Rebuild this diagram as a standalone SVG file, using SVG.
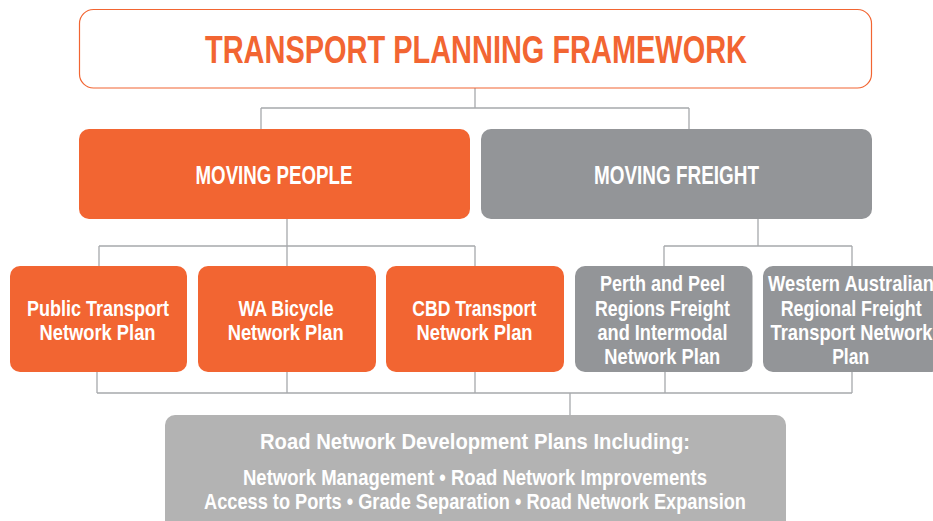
<svg xmlns="http://www.w3.org/2000/svg" width="933" height="521" viewBox="0 0 933 521">
  <style>
    .t { font-family: "Liberation Sans Narrow", "Liberation Sans", Arial, sans-serif; font-weight: bold; text-anchor: middle; }
    .w { fill: #ffffff; }
    .orange { fill: #f26532; }
    .grey { fill: #939598; }
    .light { fill: #b3b3b3; }
    .conn { fill: none; stroke: #a7a9ac; stroke-width: 1.3; }
  </style>
  <rect width="933" height="521" fill="#ffffff"/>

  <!-- connectors -->
  <g id="connectors" class="conn">
    <path d="M475 88 V108 M261 108 H689 M261 108 V129 M689 108 V129"/>
    <path d="M287 219 V246 M99 246 H475 M99 246 V266 M287 246 V266 M475 246 V266"/>
    <path d="M758 219 V246 M664 246 H852 M664 246 V266 M852 246 V266"/>
    <path d="M97 372 V393 M287 372 V393 M475 372 V393 M665 372 V393 M852 372 V393 M97 393 H852 M570 393 V415"/>
  </g>

  <!-- framework header -->
  <g id="framework">
    <rect x="79.5" y="9.5" width="792" height="78.5" rx="14" fill="#ffffff" stroke="#f26532" stroke-width="1.2"/>
    <text class="t orange" x="476" y="63" font-size="39" textLength="542" lengthAdjust="spacingAndGlyphs">TRANSPORT PLANNING FRAMEWORK</text>
  </g>

  <!-- second tier -->
  <g id="moving-people">
    <rect class="orange" x="79" y="129" width="391" height="90" rx="10"/>
    <text class="t w" x="274" y="184" font-size="25" textLength="157" lengthAdjust="spacingAndGlyphs">MOVING PEOPLE</text>
  </g>
  <g id="moving-freight">
    <rect class="grey" x="481" y="129" width="391" height="90" rx="10"/>
    <text class="t w" x="676.5" y="184" font-size="25" textLength="165" lengthAdjust="spacingAndGlyphs">MOVING FREIGHT</text>
  </g>

  <!-- plans -->
  <g id="public-transport">
    <rect class="orange" x="10" y="266" width="177" height="106" rx="10"/>
    <text class="t w" x="98" y="316" font-size="22" textLength="142" lengthAdjust="spacingAndGlyphs">Public Transport</text>
    <text class="t w" x="97.5" y="340" font-size="22" textLength="116" lengthAdjust="spacingAndGlyphs">Network Plan</text>
  </g>
  <g id="wa-bicycle">
    <rect class="orange" x="198" y="266" width="178" height="106" rx="10"/>
    <text class="t w" x="286" y="316" font-size="22" textLength="95" lengthAdjust="spacingAndGlyphs">WA Bicycle</text>
    <text class="t w" x="285.7" y="340" font-size="22" textLength="116" lengthAdjust="spacingAndGlyphs">Network Plan</text>
  </g>
  <g id="cbd-transport">
    <rect class="orange" x="386" y="266" width="178" height="106" rx="10"/>
    <text class="t w" x="474.3" y="316" font-size="22" textLength="124" lengthAdjust="spacingAndGlyphs">CBD Transport</text>
    <text class="t w" x="474.5" y="340" font-size="22" textLength="116" lengthAdjust="spacingAndGlyphs">Network Plan</text>
  </g>
  <g id="perth-peel-freight">
    <rect class="grey" x="575" y="266" width="177.5" height="106" rx="10"/>
    <text class="t w" x="662.5" y="291" font-size="22" textLength="125" lengthAdjust="spacingAndGlyphs">Perth and Peel</text>
    <text class="t w" x="662.5" y="316" font-size="22" textLength="135" lengthAdjust="spacingAndGlyphs">Regions Freight</text>
    <text class="t w" x="662.5" y="340" font-size="22" textLength="130" lengthAdjust="spacingAndGlyphs">and Intermodal</text>
    <text class="t w" x="662.3" y="364" font-size="22" textLength="116" lengthAdjust="spacingAndGlyphs">Network Plan</text>
  </g>
  <g id="wa-regional-freight">
    <rect class="grey" x="763" y="266" width="178" height="106" rx="10"/>
    <text class="t w" x="851" y="291" font-size="22" textLength="166" lengthAdjust="spacingAndGlyphs">Western Australian</text>
    <text class="t w" x="851.2" y="316" font-size="22" textLength="141" lengthAdjust="spacingAndGlyphs">Regional Freight</text>
    <text class="t w" x="851.5" y="340" font-size="22" textLength="162" lengthAdjust="spacingAndGlyphs">Transport Network</text>
    <text class="t w" x="850.7" y="364" font-size="22" textLength="37" lengthAdjust="spacingAndGlyphs">Plan</text>
  </g>

  <!-- road network plans -->
  <g id="road-network">
    <rect class="light" x="165" y="415" width="621" height="120" rx="10"/>
    <text class="t w" x="475" y="449" font-size="22" textLength="430" lengthAdjust="spacingAndGlyphs">Road Network Development Plans Including:</text>
    <text class="t w" x="475" y="485" font-size="21.5" textLength="464" lengthAdjust="spacingAndGlyphs">Network Management • Road Network Improvements</text>
    <text class="t w" x="475" y="508.7" font-size="21.5" textLength="542" lengthAdjust="spacingAndGlyphs">Access to Ports • Grade Separation • Road Network Expansion</text>
  </g>
</svg>
